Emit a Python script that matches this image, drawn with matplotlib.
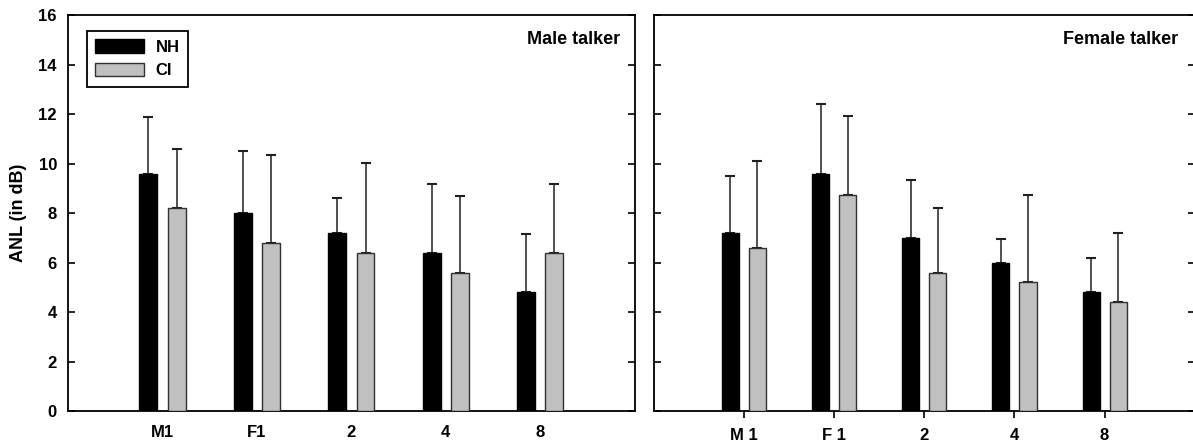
import numpy as np
import matplotlib.pyplot as plt
from matplotlib.patches import Patch

plt.rcParams['font.family'] = ['Liberation Sans', 'DejaVu Sans']
plt.rcParams['font.weight'] = 'bold'

# data
conds_male = ["M1", "F1", "2", "4", "8"]
conds_female = ["M 1", "F 1", "2", "4", "8"]

male_nh = [9.6, 8.0, 7.2, 6.4, 4.8]
male_nh_top = [11.9, 10.5, 8.6, 9.2, 7.15]
male_ci = [8.2, 6.8, 6.4, 5.6, 6.4]
male_ci_top = [10.6, 10.35, 10.05, 8.7, 9.2]

female_nh = [7.2, 9.6, 7.0, 6.0, 4.8]
female_nh_top = [9.52, 12.4, 9.36, 6.96, 6.2]
female_ci = [6.6, 8.75, 5.6, 5.2, 4.4]
female_ci_top = [10.1, 11.95, 8.22, 8.74, 7.2]

fig = plt.figure(figsize=(11.93, 4.42), dpi=100)
ax1 = fig.add_axes([0.057, 0.0701, 0.475, 0.895])
ax2 = fig.add_axes([0.548, 0.0701, 0.4535, 0.895])

width = 0.19
off = 0.15


def draw(ax, nh, nh_top, ci, ci_top):
    x = np.arange(len(nh))
    nh_err = np.array(nh_top) - np.array(nh)
    ci_err = np.array(ci_top) - np.array(ci)
    ax.bar(x - off, nh, width, color="black", edgecolor="black", linewidth=1, zorder=3)
    ax.bar(x + off, ci, width, color="#c0c0c0", edgecolor="#303030", linewidth=1, zorder=3)
    ax.errorbar(x - off, nh, yerr=[np.zeros(len(nh)), nh_err], fmt="none",
                ecolor="#202020", elinewidth=1.1, capsize=3.5, capthick=1.5, zorder=2)
    ax.errorbar(x + off, ci, yerr=[np.zeros(len(ci)), ci_err], fmt="none",
                ecolor="#202020", elinewidth=1.1, capsize=3.5, capthick=1.5, zorder=2)
    ax.set_xlim(-1, 5)
    ax.set_ylim(0, 16)
    ax.set_yticks(range(0, 17, 2))
    for s in ax.spines.values():
        s.set_linewidth(1.3)
    return x


x = draw(ax1, male_nh, male_nh_top, male_ci, male_ci_top)
ax1.set_xticks(x)
ax1.set_xticklabels(conds_male, fontsize=12, fontweight="bold")
ax1.tick_params(axis="x", length=0, pad=10)
ax1.tick_params(axis="y", direction="in", length=5, width=1.2, right=True,
                labelsize=12, pad=8)
ax1.set_ylabel("ANL (in dB)", fontsize=13, fontweight="bold", labelpad=8)
ax1.text(0.975, 0.94, "Male talker", transform=ax1.transAxes, ha="right",
         va="center", fontsize=13, fontweight="bold")

handles = [Patch(facecolor="black", edgecolor="black", label="NH"),
           Patch(facecolor="#c0c0c0", edgecolor="#303030", label="CI")]
leg = ax1.legend(handles=handles, loc="upper left", bbox_to_anchor=(0.019, 0.982),
                 fancybox=False, edgecolor="black", framealpha=1,
                 prop={"weight": "bold", "size": 12}, handlelength=2.9,
                 handleheight=0.85, borderpad=0.5, labelspacing=0.5, handletextpad=0.7)
leg.get_frame().set_linewidth(1.3)

x = draw(ax2, female_nh, female_nh_top, female_ci, female_ci_top)
ax2.set_xticks(x)
ax2.set_xticklabels(conds_female, fontsize=12, fontweight="bold")
ax2.tick_params(axis="x", direction="out", length=5, width=1.2, pad=7)
ax2.tick_params(axis="y", direction="in", length=5, width=1.2, right=True,
                labelleft=False)
ax2.text(0.97, 0.94, "Female talker", transform=ax2.transAxes, ha="right",
         va="center", fontsize=13, fontweight="bold")

fig.savefig("out.png", dpi=100)
